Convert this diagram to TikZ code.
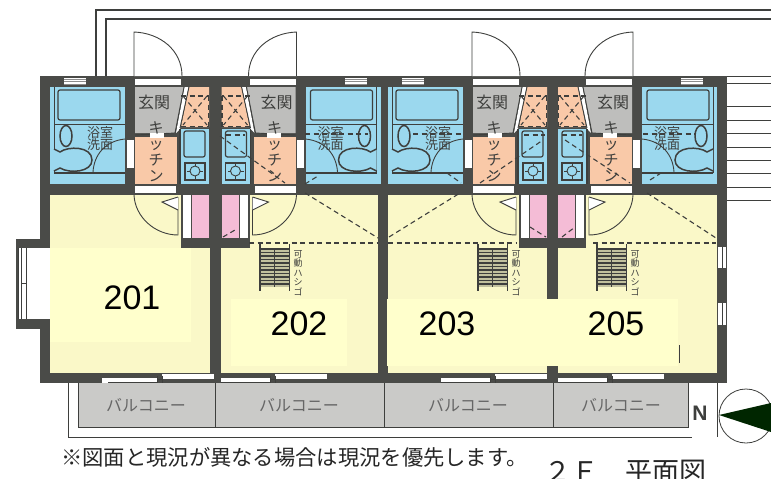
\documentclass[tikz,border=0pt]{standalone}
\usepackage{fontspec}
\setmainfont{Liberation Sans}
\newfontfamily\jpfont{Noto Sans CJK JP}
\usetikzlibrary{positioning}
\definecolor{wallgray}{HTML}{4A4B48}
\definecolor{inkgray}{HTML}{3E3F3D}
\definecolor{bathblue}{HTML}{9BD8EE}
\definecolor{kitorange}{HTML}{F9C9A8}
\definecolor{hallgray}{HTML}{BEBEBC}
\definecolor{roomyellow}{HTML}{FAF8C8}
\definecolor{patchyellow}{HTML}{FFFFCC}
\definecolor{closetpink}{HTML}{F4BCD6}
\definecolor{balcgray}{HTML}{CACAC8}
\tikzset{
	planline/.style={draw=inkgray, line width=0.9pt},
	heavyline/.style={draw=inkgray, line width=1.5pt},
	thinline/.style={draw=inkgray, line width=0.6pt},
	dashline/.style={draw=inkgray, line width=1.1pt, dash pattern=on 5pt off 3.5pt},
	kana/.style={font=\jpfont\fontsize{13}{12}\selectfont, text=inkgray, align=center, inner sep=0pt},
	tallkana/.style={font=\jpfont\fontsize{15}{16}\selectfont, text=inkgray, align=center, inner sep=0pt},
	hallkana/.style={font=\jpfont\fontsize{16}{16}\selectfont, text=inkgray, inner sep=0pt},
	balckana/.style={font=\jpfont\fontsize{16}{16}\selectfont, text=black!60, inner sep=0pt},
	ladderkana/.style={font=\jpfont\fontsize{9}{9.6}\selectfont, text=inkgray, align=center, inner sep=0pt},
	roomlabel/.style={font=\fontsize{34}{34}\selectfont, text=black, inner sep=0pt},
	wetunit/.pic={
		\fill[bathblue] (50,87) rectangle (125,184);
		\draw[planline, rounded corners=2pt, line width=1.2pt] (58,90) rectangle (120,120);
		\draw[planline] (54,87) -- (54,173);
		\draw[planline] (54,124) -- (125,124);
		\draw[heavyline] (54,173) -- (125,173);
		\draw[heavyline, fill=bathblue] (66,136) ellipse [x radius=6, y radius=10.5];
		\draw[heavyline, fill=bathblue] (54,149) -- (60,152) .. controls (68,146) and (92,146) .. (92,160) .. controls (92,172) and (70,174) .. (60,168) -- (54,171);
		\draw[planline] (93,172) .. controls (94,155) and (105,141) .. (125,139);
		\fill[white] (127,140) rectangle (134,168);
		\fill[white] (64,78) rectangle (86,85);
		\draw[thinline, draw=black!45] (64,79.5) -- (86,79.5) (64,81.5) -- (86,81.5) (64,84) -- (86,84);
		\node[kana] (bath) at (100,139) {浴室\\洗面};
		\fill[hallgray] (135,87) -- (184,87) -- (175,133) -- (135,133) -- cycle;
		\fill[kitorange] (135,137) rectangle (177,184);
		\fill[kitorange] (189,87) -- (209,87) -- (209,127) -- (181,127) -- cycle;
		\fill[white] (184.5,87) -- (188.5,87) -- (180,129) -- (176,133) -- cycle;
		\draw[planline] (184,87) -- (175,133) -- (135,135);
		\draw[planline] (189,87) -- (180,128);
		\fill[white] (150,133) rectangle (164,138);
		\draw[dashline] (181,96) -- (209,96) (208.5,96) -- (208.5,127) (181,126.5) -- (209,126.5);
		\draw[dashline] (183,96) -- (207,125) (207,96) -- (183,125);
		\fill[bathblue] (180,129) rectangle (209,184);
		\draw[planline, line width=1.2pt] (180,129) -- (180,184);
		\draw[planline, rounded corners=2pt, line width=1.2pt] (184,131) rectangle (205,157);
		\draw[planline, line width=1.2pt] (185,163) rectangle (205,180);
		\draw[planline] (195,171) circle [radius=5];
		\draw[planline] (195,163) -- (195,166) (195,176) -- (195,180) (187,171) -- (190,171) (200,171) -- (203,171);
		\node[hallkana] (hall) at (154,102) {玄関};
		\node[tallkana] (kit) at (156,151.5) {キ\\ッ\\チ\\ン};
		\fill[white] (135,79) rectangle (181,85);
		\fill[white] (135,186) rectangle (176,193);
		\draw[planline, fill=white] (134,76) -- (134,32) .. controls (160,33) and (182,50) .. (182,76);
		\draw[planline] (134,195) .. controls (135,217) and (155,235) .. (178,235) -- (178,197);
		\draw[planline, fill=white] (178,197) -- (162,202) -- (178,210);
		\fill[wallgray] (181,195) rectangle (210,248);
		\fill[white] (183,195) rectangle (191,238);
		\fill[closetpink] (192,195) rectangle (209,238);
	},
	ladderpic/.pic={
		\fill[roomyellow!70!inkgray] (0,5) rectangle (29,44);
		\foreach \rung in {6,9.5,...,43} {
			\draw[heavyline, line width=1.3pt] (0,\rung) -- (29,\rung);
		}
		\draw[planline, line width=1.1pt] (0,1) -- (0,48) (29.5,1) -- (29.5,48);
		\draw[thinline] (14.5,5) -- (14.5,44);
		\node[ladderkana, anchor=north] (tag) at (38,7) {可\\動\\ハ\\シ\\ゴ};
	},
	slidewin/.pic={
		\fill[white] (0,4) rectangle (49,9);
		\fill[white] (54,0.5) rectangle (106,5);
		\draw[thinline] (0,9) -- (49,9) (49,2) -- (49,10) (54,2) -- (54,10) (49,5.5) -- (54,5.5);
	}
}
\begin{document}
\begin{tikzpicture}[x=1pt, y=-1pt]
	\useasboundingbox (0,0) rectangle (771,479);
	\clip (0,0) rectangle (771,479);
	\fill[white] (0,0) rectangle (771,479);
	\coordinate (roofa) at (96,76);
	\coordinate (roofb) at (106,76);
	\draw[heavyline, line width=1.1pt] (roofa) |- (771,10);
	\draw[heavyline, line width=1.1pt] (roofb) |- (771,19);
	\foreach \ry in {76,83,106.5,120,133.5,147,160,173.5,187,200.5} {
		\draw[planline] (726,\ry) -- (771,\ry);
	}
	\fill[wallgray] (40,76) rectangle (727,383);
	\fill[wallgray] (16,239) rectangle (50,329);
	\fill[white] (18,248) rectangle (50,319);
	\draw[thinline] (18,248) -- (18,319) (21,248) -- (21,319) (26,248) -- (26,319) (21,283) -- (26,283);
	\fill[roomyellow] (50,195) rectangle (210,373);
	\fill[roomyellow] (221,195) rectangle (378,373);
	\fill[roomyellow] (388,195) rectangle (547,373);
	\fill[roomyellow] (558,195) rectangle (717,373);
	\pic (flatone) at (0,0) {wetunit};
	\pic[xscale=-1] (flattwo) at (430.5,0) {wetunit};
	\pic (flatthree) at (338,0) {wetunit};
	\pic[xscale=-1] (flatfour) at (767,0) {wetunit};
	\fill[white] (718,247) rectangle (726,268);
	\fill[white] (718,303) rectangle (726,325);
	\draw[thinline] (722,247) -- (722,268) (722,303) -- (722,325);
	\fill[white] (102,377.5) rectangle (108,382.5);
	\pic (winone) at (108,373.5) {slidewin};
	\pic (wintwo) at (221,373.5) {slidewin};
	\pic (winthree) at (441,373.5) {slidewin};
	\pic (winfour) at (558,373.5) {slidewin};
	\draw[dashline] (249,243) -- (378,243);
	\draw[dashline] (388,243) -- (517,243);
	\draw[dashline] (593,243) -- (716,243);
	\draw[dashline] (305,193) -- (378,238) (305,184) -- (318,176);
	\draw[dashline] (389,237) -- (460,193) (447,173) -- (461,183);
	\draw[dashline] (647,193) -- (716,238) (650,180) -- (661,173);
	\draw[dashline] (220,136) -- (285,183);
	\draw[dashline] (480,183) -- (543,140);
	\draw[dashline] (565,140) -- (630,183);
	\draw[dashline] (223,237) -- (235,230) (530,227) -- (546,237) (562,237) -- (575,227);
	\draw[dashline] (305,134) -- (368,134) (226,135) -- (245,135);
	\draw[dashline] (413,134) -- (462,134) (524,135) -- (545,135);
	\draw[dashline] (643,134) -- (695,134) (562,135) -- (582,135);
	\pic (ladtwo) at (260,243) {ladderpic};
	\pic (ladthree) at (478,243) {ladderpic};
	\pic (ladfour) at (597,243) {ladderpic};
	\fill[patchyellow] (50,248) rectangle (191,342);
	\fill[patchyellow] (231,299) rectangle (347,366);
	\fill[patchyellow] (387,299) rectangle (541,366);
	\fill[patchyellow] (541,299) rectangle (678,366);
	\draw[planline] (679,345) -- (679,363);
	\node[roomlabel] (rooma) at (132,298) {201};
	\node[roomlabel] (roomb) at (299,323.5) {202};
	\node[roomlabel] (roomc) at (447,323.5) {203};
	\node[roomlabel] (roomd) at (616,323.5) {205};
	\fill[balcgray] (78,383) rectangle (688,427);
	\draw[planline] (78,383) -- (78,427) -- (688,427) -- (688,383);
	\draw[planline] (215,383) -- (215,427) (384,383) -- (384,427) (553,383) -- (553,427);
	\draw[planline] (68,383) -- (68,437) -- (692,437);
	\node[balckana] (balktexta) at (146,405) {バルコニー};
	\node[balckana] (balktextb) at (299,405) {バルコニー};
	\node[balckana] (balktextc) at (468,405) {バルコニー};
	\node[balckana] (balktextd) at (621,405) {バルコニー};
	\node[inner sep=0pt, font=\bfseries\fontsize{21}{21}\selectfont, text=inkgray] (north) at (700,413) {N};
	\draw[planline] (717,383) -- (717,437);
	\draw[thinline, line width=0.8pt] (746,416) circle [radius=27];
	\fill[black!85!green] (719,415) -- (771,403) -- (771,432) -- cycle;
	\node[anchor=west, inner sep=0pt, font=\jpfont\fontsize{21.3}{21.3}\selectfont, text=black!85] (note) at (61,457) {※図面と現況が異なる場合は現況を優先します。};
	\node[anchor=west, inner sep=0pt, font=\jpfont\fontsize{27}{27}\selectfont, text=black!85] (title) at (544,472) {２Ｆ　平面図};
\end{tikzpicture}
\end{document}
